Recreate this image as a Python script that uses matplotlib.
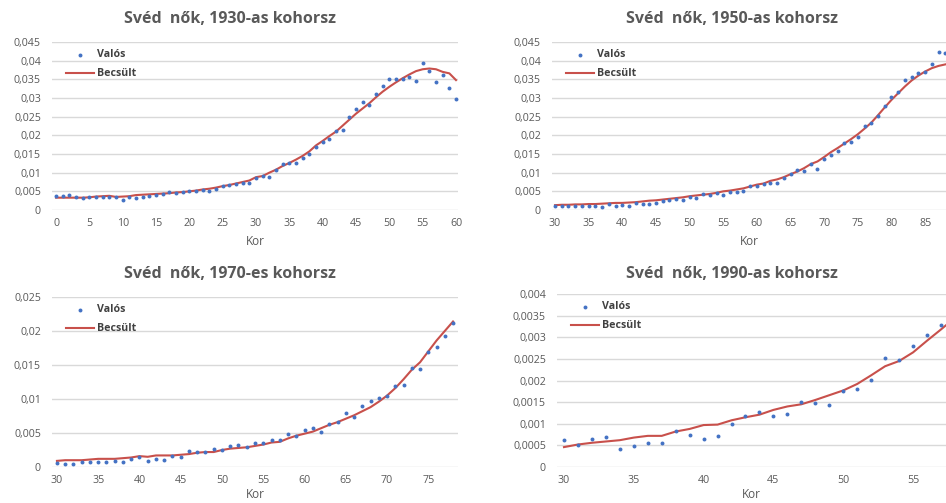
import numpy as np
import matplotlib
matplotlib.use('Agg')
import matplotlib.pyplot as plt
from matplotlib.ticker import FuncFormatter, MultipleLocator

# halálozási ráták, svéd nők, kohorszonként (Valós = megfigyelt, Becsült = modell)
kor_1930 = list(range(0, 61))
valos_1930 = [0.0038, 0.0037, 0.0040, 0.0035, 0.0032, 0.0035, 0.0034, 0.0034, 0.0034, 0.0034,
              0.0026, 0.0034, 0.0032, 0.0034, 0.0037, 0.0040, 0.0042, 0.0047, 0.0045, 0.0047,
              0.0050, 0.0052, 0.0053, 0.0050, 0.0056, 0.0063, 0.0066, 0.0070, 0.0072, 0.0072,
              0.0087, 0.0090, 0.0089, 0.0106, 0.0123, 0.0125, 0.0126, 0.0139, 0.0150, 0.0170,
              0.0182, 0.0190, 0.0211, 0.0215, 0.0250, 0.0271, 0.0290, 0.0280, 0.0312, 0.0333,
              0.0350, 0.0352, 0.0350, 0.0355, 0.0346, 0.0393, 0.0371, 0.0343, 0.0362, 0.0326,
              0.0298]
becsult_1930 = [0.0033, 0.0033, 0.0033, 0.0033, 0.0033, 0.0034, 0.0036, 0.0037, 0.0038, 0.0035,
                0.0036, 0.0037, 0.0040, 0.0041, 0.0042, 0.0043, 0.0044, 0.0045, 0.0047, 0.0048,
                0.0050, 0.0052, 0.0055, 0.0057, 0.0060, 0.0064, 0.0067, 0.0071, 0.0075, 0.0079,
                0.0088, 0.0091, 0.0100, 0.0108, 0.0118, 0.0126, 0.0135, 0.0145, 0.0157, 0.0173,
                0.0185, 0.0198, 0.0210, 0.0226, 0.0242, 0.0258, 0.0272, 0.0286, 0.0302, 0.0317,
                0.0330, 0.0342, 0.0353, 0.0363, 0.0372, 0.0377, 0.0379, 0.0377, 0.0370, 0.0366,
                0.0348]

kor_1950 = list(range(30, 89))
valos_1950 = [0.0011, 0.0011, 0.0012, 0.0011, 0.0011, 0.0012, 0.0011, 0.0009, 0.0015, 0.0012,
              0.0013, 0.0010, 0.0020, 0.0016, 0.0016, 0.0020, 0.0024, 0.0027, 0.0030, 0.0028,
              0.0035, 0.0033, 0.0042, 0.0041, 0.0045, 0.0040, 0.0048, 0.0047, 0.0052, 0.0063,
              0.0064, 0.0069, 0.0073, 0.0073, 0.0087, 0.0097, 0.0108, 0.0104, 0.0124, 0.0110,
              0.0136, 0.0148, 0.0157, 0.0179, 0.0182, 0.0195, 0.0225, 0.0233, 0.0253, 0.0279,
              0.0303, 0.0317, 0.0349, 0.0355, 0.0366, 0.0369, 0.0392, 0.0423, 0.0420]
becsult_1950 = [0.0013, 0.0014, 0.0014, 0.0015, 0.0015, 0.0016, 0.0016, 0.0017, 0.0018, 0.0019,
                0.0019, 0.0020, 0.0021, 0.0023, 0.0025, 0.0026, 0.0028, 0.0030, 0.0032, 0.0034,
                0.0037, 0.0039, 0.0041, 0.0043, 0.0046, 0.0050, 0.0052, 0.0055, 0.0058, 0.0063,
                0.0068, 0.0071, 0.0078, 0.0082, 0.0088, 0.0096, 0.0103, 0.0112, 0.0123, 0.0130,
                0.0142, 0.0155, 0.0166, 0.0178, 0.0190, 0.0203, 0.0218, 0.0234, 0.0254, 0.0275,
                0.0295, 0.0313, 0.0331, 0.0347, 0.0360, 0.0371, 0.0380, 0.0386, 0.0390]

kor_1970 = list(range(30, 79))
valos_1970 = [0.0006, 0.0004, 0.0004, 0.0008, 0.0008, 0.0007, 0.0007, 0.0009, 0.0008, 0.0012,
              0.0015, 0.0009, 0.0012, 0.0011, 0.0016, 0.0015, 0.0023, 0.0022, 0.0022, 0.0027,
              0.0025, 0.0031, 0.0032, 0.0029, 0.0036, 0.0035, 0.0040, 0.0040, 0.0048, 0.0046,
              0.0054, 0.0058, 0.0052, 0.0063, 0.0066, 0.0080, 0.0074, 0.0090, 0.0097, 0.0101,
              0.0104, 0.0119, 0.0121, 0.0146, 0.0144, 0.0169, 0.0176, 0.0193, 0.0212]
becsult_1970 = [0.0009, 0.0010, 0.0010, 0.0010, 0.0011, 0.0012, 0.0012, 0.0012, 0.0013, 0.0014,
                0.0016, 0.0015, 0.0017, 0.0017, 0.0017, 0.0018, 0.0019, 0.0021, 0.0022, 0.0022,
                0.0025, 0.0027, 0.0028, 0.0029, 0.0031, 0.0033, 0.0036, 0.0037, 0.0042, 0.0046,
                0.0049, 0.0052, 0.0057, 0.0062, 0.0066, 0.0071, 0.0076, 0.0082, 0.0088, 0.0096,
                0.0105, 0.0116, 0.0129, 0.0143, 0.0154, 0.0170, 0.0186, 0.0200, 0.0214]

kor_1990 = list(range(30, 59))
valos_1990 = [0.00062, 0.00051, 0.00064, 0.00069, 0.00042, 0.00049, 0.00056, 0.00055, 0.00084, 0.00075,
              0.00064, 0.00071, 0.00100, 0.00119, 0.00127, 0.00118, 0.00122, 0.00151, 0.00147, 0.00143,
              0.00176, 0.00180, 0.00201, 0.00253, 0.00248, 0.00280, 0.00306, 0.00328, 0.00350]
becsult_1990 = [0.00046, 0.00052, 0.00056, 0.00059, 0.00062, 0.00068, 0.00072, 0.00072, 0.00082, 0.00088,
                0.00097, 0.00098, 0.00108, 0.00115, 0.00121, 0.00132, 0.00140, 0.00145, 0.00155, 0.00166,
                0.00177, 0.00192, 0.00212, 0.00233, 0.00245, 0.00265, 0.00292, 0.00318, 0.00345]

W, H = 946, 503
SZURKE = '#595959'
KEK = '#4472C4'
PIROS = '#C8504B'
RACS = '#D9D9D9'

plt.rcParams['font.family'] = ['Open Sans', 'DejaVu Sans']

fig = plt.figure(figsize=(W / 100, H / 100), dpi=100, facecolor='white')


def vesszos(v, pos):
    s = ('%.5f' % v).rstrip('0').rstrip('.')
    return s.replace('.', ',')


def panel(box, title_xy, cim, kor, valos, becsult, xlim, ymax, ystep, kor_pad):
    left, top, right, bottom = box
    ax = fig.add_axes([left / W, 1 - bottom / H, (right - left) / W, (bottom - top) / H])
    ax.set_xlim(*xlim)
    ax.set_ylim(0, ymax)
    ax.yaxis.set_major_locator(MultipleLocator(ystep))
    ax.xaxis.set_major_locator(MultipleLocator(5))
    ax.yaxis.set_major_formatter(FuncFormatter(vesszos))
    ax.grid(axis='y', color=RACS, linewidth=1)
    ax.set_axisbelow(True)
    for s in ax.spines.values():
        s.set_visible(False)
    ax.tick_params(length=0, labelsize=7.7, colors=SZURKE)
    ax.tick_params(axis='y', pad=8)
    ax.tick_params(axis='x', pad=6)

    ax.scatter(kor, valos, s=8, color=KEK, label='Valós', zorder=3, linewidths=0)
    ax.plot(kor, becsult, color=PIROS, linewidth=1.5, label='Becsült', zorder=2)

    ax.set_xlabel('Kor', fontsize=8.5, color=SZURKE, labelpad=kor_pad)

    ax.legend(loc='upper left', bbox_to_anchor=((left + 9) / W, 1 - (top + 2) / H),
              bbox_transform=fig.transFigure, frameon=False, scatterpoints=1,
              handlelength=2.6, handletextpad=0.25, labelspacing=0.75, borderpad=0,
              prop={'weight': 'bold', 'size': 7.7}, labelcolor='#404040')

    fig.text(title_xy[0] / W, 1 - title_xy[1] / H, cim, ha='center', va='center',
             fontsize=11.5, fontweight='bold', color=SZURKE)
    return ax


panel((52, 42, 458, 210), (230, 19), 'Svéd  nők, 1930-as kohorsz',
      kor_1930, valos_1930, becsult_1930, (-0.6, 60.3), 0.045, 0.005, 4)
panel((552, 42, 946, 210), (732, 19), 'Svéd  nők, 1950-as kohorsz',
      kor_1950, valos_1950, becsult_1950, (29.55, 88.1), 0.045, 0.005, 4)
panel((52, 297, 458, 467), (230, 274), 'Svéd  nők, 1970-es kohorsz',
      kor_1970, valos_1970, becsult_1970, (29.4, 78.6), 0.025, 0.005, 1)
panel((557, 294, 946, 467), (732, 274), 'Svéd  nők, 1990-as kohorsz',
      kor_1990, valos_1990, becsult_1990, (29.5, 57.36), 0.004, 0.0005, 1)

fig.savefig('out.png', dpi=100, facecolor='white')
